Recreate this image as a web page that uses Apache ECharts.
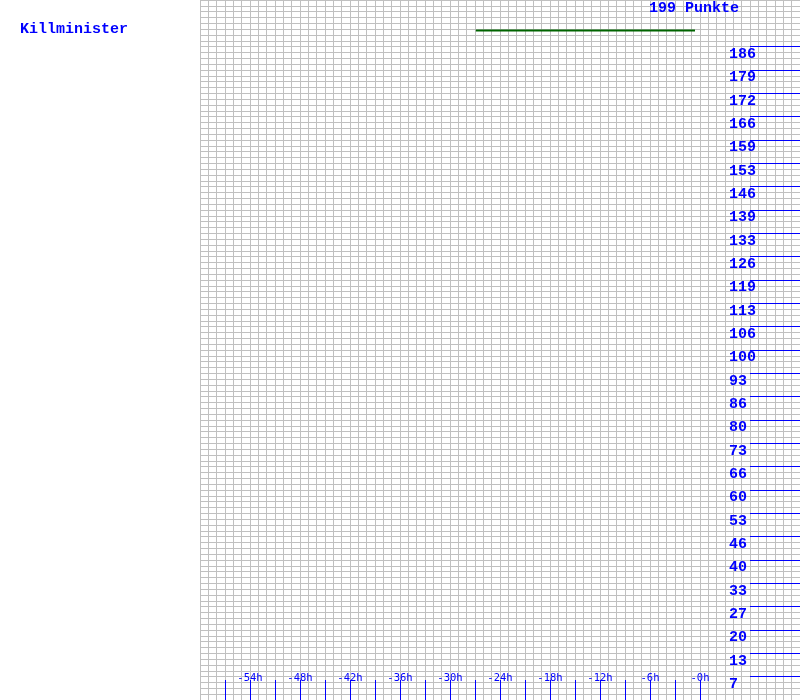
<!DOCTYPE html>
<html><head><meta charset="utf-8">
<script src="https://cdn.jsdelivr.net/npm/echarts@6/dist/echarts.min.js"></script>
<style>html,body{margin:0;padding:0;background:#fff}#c{width:800px;height:700px}</style>
</head><body><div id="c"></div>
<script>
const playerName = 'Killminister';
const pointsLabel = '199 Punkte';
const yMax = 199;
const ySteps = 30;
const yTickLabels = ['7','13','20','27','33','40','46','53','60','66','73','80','86','93','100','106','113','119','126','133','139','146','153','159','166','172','179','186'];
const xLabelHours = [-54,-48,-42,-36,-30,-24,-18,-12,-6,0];
const xLabelTexts = ['-54h','-48h','-42h','-36h','-30h','-24h','-18h','-12h','-6h','-0h'];
const xTickHours = [-57,-54,-51,-48,-45,-42,-39,-36,-33,-30,-27,-24,-21,-18,-15,-12,-9,-6,-3,0];
const lineHours = [-26.9, -0.6];
const lineValues = [190.3, 190.3];

const yTickValues = yTickLabels.map((_, i) => (i + 1) * yMax / ySteps);
const BLUE = '#0000ff';
const GRAY = '#c0c0c0';

const chart = echarts.init(document.getElementById('c'), null, {renderer: 'canvas'});
chart.setOption({
  animation: false,
  backgroundColor: '#ffffff',
  title: [
    {text: playerName, left: 20, top: 22, padding: 0,
     textStyle: {color: BLUE, fontFamily: 'Liberation Mono', fontWeight: 'bold', fontSize: 15, lineHeight: 15}},
    {text: pointsLabel, left: 649, top: 1, padding: 0,
     textStyle: {color: BLUE, fontFamily: 'Liberation Mono', fontWeight: 'bold', fontSize: 15, lineHeight: 15}}
  ],
  grid: {left: 200, right: 0, top: 0, bottom: 0, containLabel: false, outerBoundsMode: 'none'},
  xAxis: [
    {type: 'value', min: -60, max: 12, interval: 1, z: 0,
     axisLine: {show: false}, axisTick: {show: false}, axisLabel: {show: false},
     splitLine: {show: true, lineStyle: {color: GRAY, width: 1}}},
    {type: 'value', min: -60, max: 12, position: 'bottom', z: 10,
     axisLine: {show: false, lineStyle: {color: BLUE}},
     axisTick: {show: true, inside: true, length: 20, customValues: xTickHours, lineStyle: {color: BLUE, width: 1}},
     axisLabel: {show: true, inside: true, customValues: xLabelHours,
       formatter: v => xLabelTexts[xLabelHours.indexOf(v)],
       color: BLUE, fontFamily: 'DejaVu Sans Mono', fontSize: 10.5, margin: 16},
     splitLine: {show: false}}
  ],
  yAxis: [
    {type: 'value', min: 0, max: yMax, interval: yMax / 120, z: 0,
     axisLine: {show: false}, axisTick: {show: false}, axisLabel: {show: false},
     splitLine: {show: true, lineStyle: {color: GRAY, width: 1}}},
    {type: 'value', min: 0, max: yMax, position: 'left', offset: -600, z: 10,
     axisLine: {show: false, lineStyle: {color: BLUE}},
     axisTick: {show: true, inside: false, length: 50, customValues: yTickValues, lineStyle: {color: BLUE, width: 1}},
     axisLabel: {show: true, inside: false, customValues: yTickValues,
       formatter: v => yTickLabels[Math.round(v * ySteps / yMax) - 1],
       color: BLUE, fontFamily: 'Liberation Mono', fontWeight: 'bold', fontSize: 15,
       align: 'left', verticalAlign: 'top', margin: 71},
     splitLine: {show: false}}
  ],
  series: [{
    type: 'line', xAxisIndex: 0, yAxisIndex: 0, silent: true, z: 20,
    symbol: 'none',
    lineStyle: {color: '#006400', width: 2},
    data: lineHours.map((h, i) => [h, lineValues[i]])
  }]
});
</script></body></html>
